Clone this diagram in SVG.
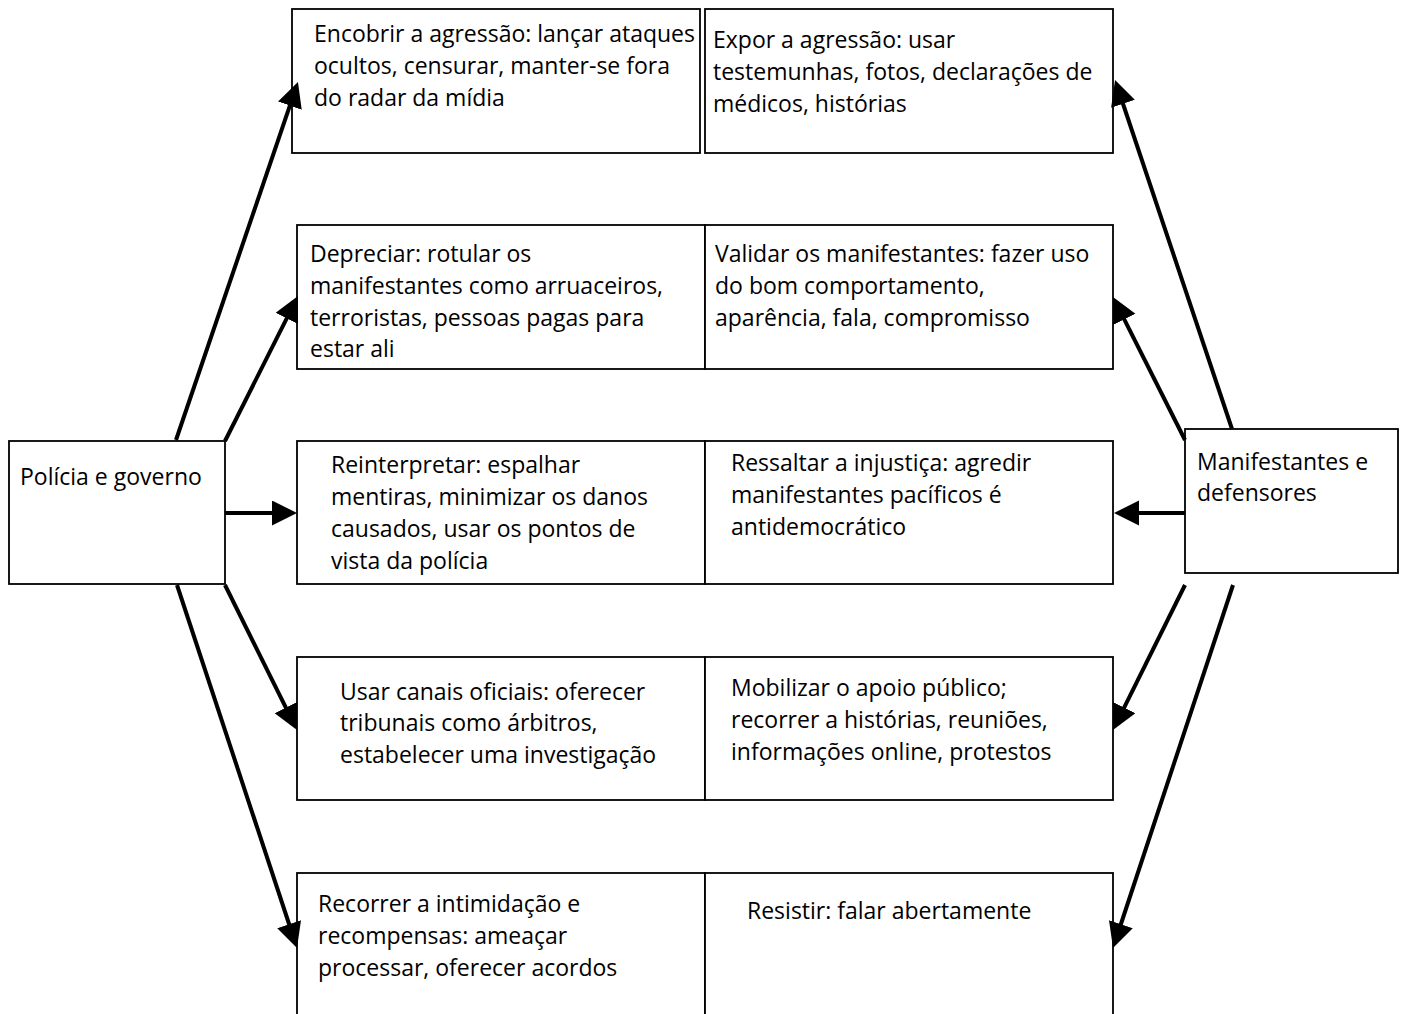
<svg xmlns="http://www.w3.org/2000/svg" width="1404" height="1014" viewBox="0 0 1404 1014">
<style>
.box{fill:#fff;stroke:#000;stroke-width:1.8}
.t{font-family:"Open Sans",Lato,sans-serif;font-size:23px;fill:#000}
.c{stroke:#000;stroke-width:4;fill:none;marker-end:url(#ah)}
</style>
<defs>
<marker id="ah" markerUnits="userSpaceOnUse" markerWidth="26" markerHeight="26" refX="5" refY="12.5" orient="auto">
<path d="M0,0 L25,12.5 L0,25 z" fill="#000"/>
</marker>
</defs>
<rect width="1404" height="1014" fill="#fff"/>
<g id="n-policia"><rect class="box" x="9" y="441" width="216" height="143"/><text class="t" x="20" y="485">Polícia e governo</text></g>
<g id="n-manif"><rect class="box" x="1185" y="429" width="213" height="144"/><text class="t" x="1197" y="470">Manifestantes e</text><text class="t" x="1197" y="501">defensores</text></g>
<g id="b1l"><rect class="box" x="292" y="9" width="408" height="144"/><text class="t" x="314" y="42">Encobrir a agressão: lançar ataques</text><text class="t" x="314" y="74">ocultos, censurar, manter-se fora</text><text class="t" x="314" y="106">do radar da mídia</text></g>
<g id="b1r"><rect class="box" x="705" y="9" width="408" height="144"/><text class="t" x="713" y="48">Expor a agressão: usar</text><text class="t" x="713" y="80">testemunhas, fotos, declarações de</text><text class="t" x="713" y="112">médicos, histórias</text></g>
<g id="b2l"><rect class="box" x="297" y="225" width="408" height="144"/><text class="t" x="310" y="262">Depreciar: rotular os</text><text class="t" x="310" y="294">manifestantes como arruaceiros,</text><text class="t" x="310" y="326">terroristas, pessoas pagas para</text><text class="t" x="310" y="357">estar ali</text></g>
<g id="b2r"><rect class="box" x="705" y="225" width="408" height="144"/><text class="t" x="715" y="262">Validar os manifestantes: fazer uso</text><text class="t" x="715" y="294">do bom comportamento,</text><text class="t" x="715" y="326">aparência, fala, compromisso</text></g>
<g id="b3l"><rect class="box" x="297" y="441" width="408" height="143"/><text class="t" x="331" y="473">Reinterpretar: espalhar</text><text class="t" x="331" y="505">mentiras, minimizar os danos</text><text class="t" x="331" y="537">causados, usar os pontos de</text><text class="t" x="331" y="569">vista da polícia</text></g>
<g id="b3r"><rect class="box" x="705" y="441" width="408" height="143"/><text class="t" x="731" y="471">Ressaltar a injustiça: agredir</text><text class="t" x="731" y="503">manifestantes pacíficos é</text><text class="t" x="731" y="535">antidemocrático</text></g>
<g id="b4l"><rect class="box" x="297" y="657" width="408" height="143"/><text class="t" x="340" y="700">Usar canais oficiais: oferecer</text><text class="t" x="340" y="731">tribunais como árbitros,</text><text class="t" x="340" y="763">estabelecer uma investigação</text></g>
<g id="b4r"><rect class="box" x="705" y="657" width="408" height="143"/><text class="t" x="731" y="696">Mobilizar o apoio público;</text><text class="t" x="731" y="728">recorrer a histórias, reuniões,</text><text class="t" x="731" y="760">informações online, protestos</text></g>
<g id="b5l"><rect class="box" x="297" y="873" width="408" height="150"/><text class="t" x="318" y="912">Recorrer a intimidação e</text><text class="t" x="318" y="944">recompensas: ameaçar</text><text class="t" x="318" y="976">processar, oferecer acordos</text></g>
<g id="b5r"><rect class="box" x="705" y="873" width="408" height="150"/><text class="t" x="747" y="919">Resistir: falar abertamente</text></g>
<g id="connectors">
<line class="c" x1="176" y1="440" x2="291.5" y2="100.9"/>
<line class="c" x1="225" y1="441" x2="289" y2="313.9"/>
<line class="c" x1="225" y1="513" x2="277" y2="513"/>
<line class="c" x1="225" y1="585" x2="288.1" y2="712.1"/>
<line class="c" x1="177" y1="585" x2="290.7" y2="929"/>
<line class="c" x1="1232" y1="429" x2="1121.4" y2="99"/>
<line class="c" x1="1185" y1="440" x2="1122" y2="314.9"/>
<line class="c" x1="1185" y1="513" x2="1134" y2="513"/>
<line class="c" x1="1185" y1="585" x2="1121.9" y2="712.1"/>
<line class="c" x1="1233" y1="585" x2="1119.3" y2="929"/>
</g>
</svg>
